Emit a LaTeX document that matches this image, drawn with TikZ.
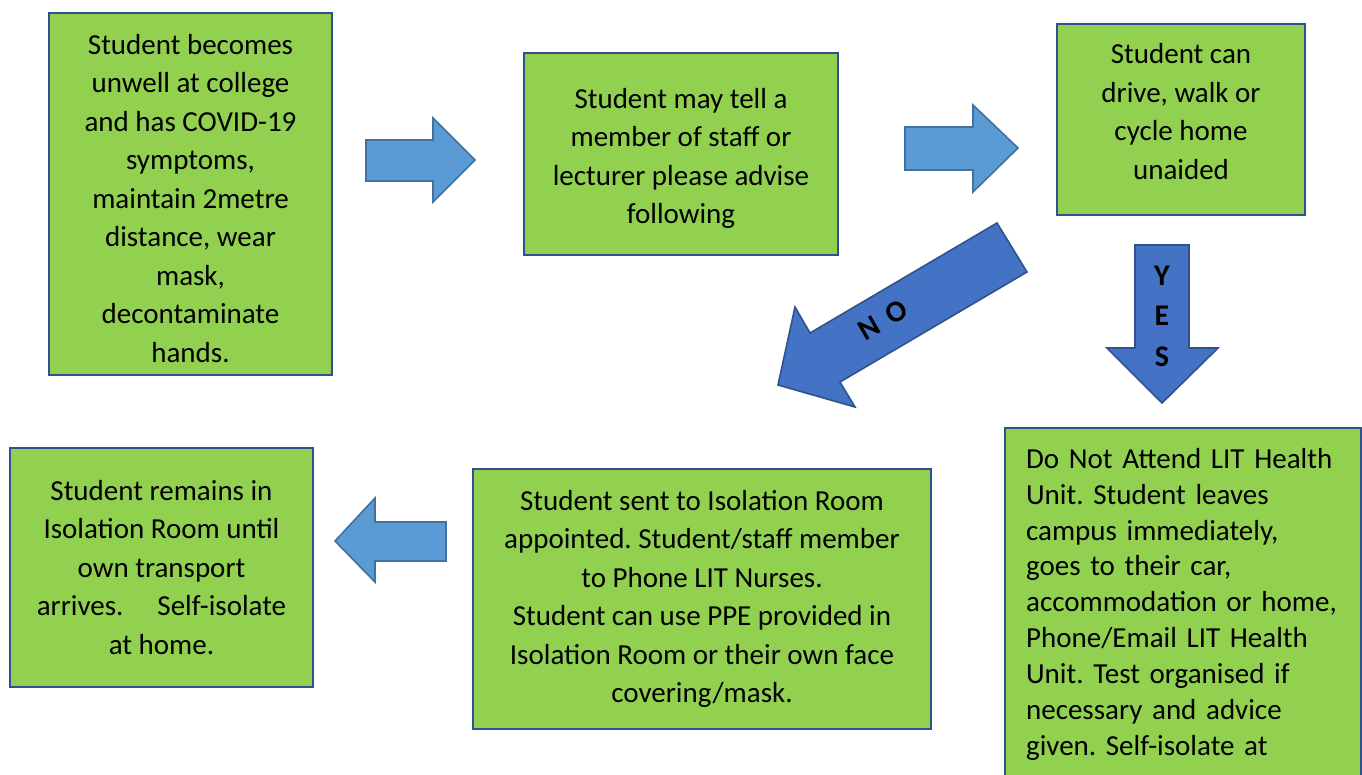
\documentclass[tikz,border=0pt]{standalone}
\usepackage{fontspec}
\setmainfont{Carlito}
\frenchspacing
\definecolor{boxgreen}{HTML}{92D050}
\definecolor{boxline}{HTML}{2F528F}
\definecolor{larrow}{HTML}{5B9BD5}
\definecolor{larrowline}{HTML}{41719C}
\definecolor{darrow}{HTML}{4472C4}
\newcommand{\topstrut}[1]{\rule{0pt}{#1}}
\newcommand{\botstrut}[1]{\rule[-#1]{0pt}{#1}}
\begin{document}
\frenchspacing
\begin{tikzpicture}[x=1pt,y=-1pt,
  box/.style={draw=boxline, line width=2.2pt, fill=boxgreen, align=center, inner sep=0pt,
    font=\fontsize{29}{38.5}\selectfont},
  lightarrow/.style={draw=larrowline, line width=1.6pt, fill=larrow, line join=miter},
  darkarrow/.style={draw=boxline, line width=1.6pt, fill=darrow, line join=miter},
  lbl/.style={font=\bfseries\fontsize{30}{40.5}\selectfont, inner sep=0pt, align=center}]
\useasboundingbox (0,0) rectangle (1362,774);
\clip (0,0) rectangle (1362,774);

% boxes
\node[box, minimum width=283pt, minimum height=362pt] (b1) at (190.5,194)
  {\topstrut{29pt}Student becomes\\unwell at college\\and has COVID-19\\symptoms,\\maintain 2metre\\distance, wear\\mask,\\decontaminate\\hands.};
\node[box, minimum width=314pt, minimum height=202pt] (b2) at (681,154)
  {\topstrut{29pt}Student may tell a\\member of staff or\\lecturer please advise\\following};
\node[box, minimum width=248pt, minimum height=191pt] (b3) at (1181,119.5)
  {Student can\\drive, walk or\\cycle home\\unaided\botstrut{16pt}};
\node[box, minimum width=303pt, minimum height=239pt] (b4) at (161.5,567.5)
  {Student remains in\\Isolation Room until\\own transport\\arrives.\hspace{34pt}Self-isolate\\at home.};
\node[box, minimum width=458pt, minimum height=260pt] (b5) at (702,599)
  {Student sent to Isolation Room\\appointed. Student/staff member\\to Phone LIT Nurses.\\Student can use PPE provided in\\Isolation Room or their own face\\covering/mask.};
\node[box, anchor=north west, minimum width=356pt, align=left, text width=314pt,
  inner xsep=21pt, inner ysep=20pt, font=\fontsize{29}{35.9}\selectfont] (b6) at (1004,427)
  {Do Not Attend LIT Health\\Unit. Student leaves\\campus immediately,\\goes to their car,\\accommodation or home,\\Phone/Email LIT Health\\Unit. Test organised if\\necessary and advice\\given. Self-isolate at\\\mbox{}};

% block arrows
\draw[lightarrow] (366,140) -- (433,140) -- (433,118) -- (475,160) -- (433,202) -- (433,181) -- (366,181) -- cycle;
\draw[lightarrow] (905,127) -- (973,127) -- (973,105) -- (1018,148) -- (973,192) -- (973,170) -- (905,170) -- cycle;
\draw[lightarrow] (446,522) -- (375,522) -- (375,498) -- (335,541) -- (375,582) -- (375,561) -- (446,561) -- cycle;
\draw[darkarrow] (1135,245) -- (1189,245) -- (1189,348) -- (1218,348) -- (1162,403) -- (1107,348) -- (1135,348) -- cycle;
\draw[darkarrow] (997,223) -- (1027,272) -- (840,382) -- (855,407) -- (778,385) -- (795,307) -- (810,333) -- cycle;

% labels
\node[lbl] (yes) at (1162,316) {Y\\E\\S};
\node[lbl, rotate=30] (no) at (883,320) {N\hspace{12pt}O};
\end{tikzpicture}
\end{document}
